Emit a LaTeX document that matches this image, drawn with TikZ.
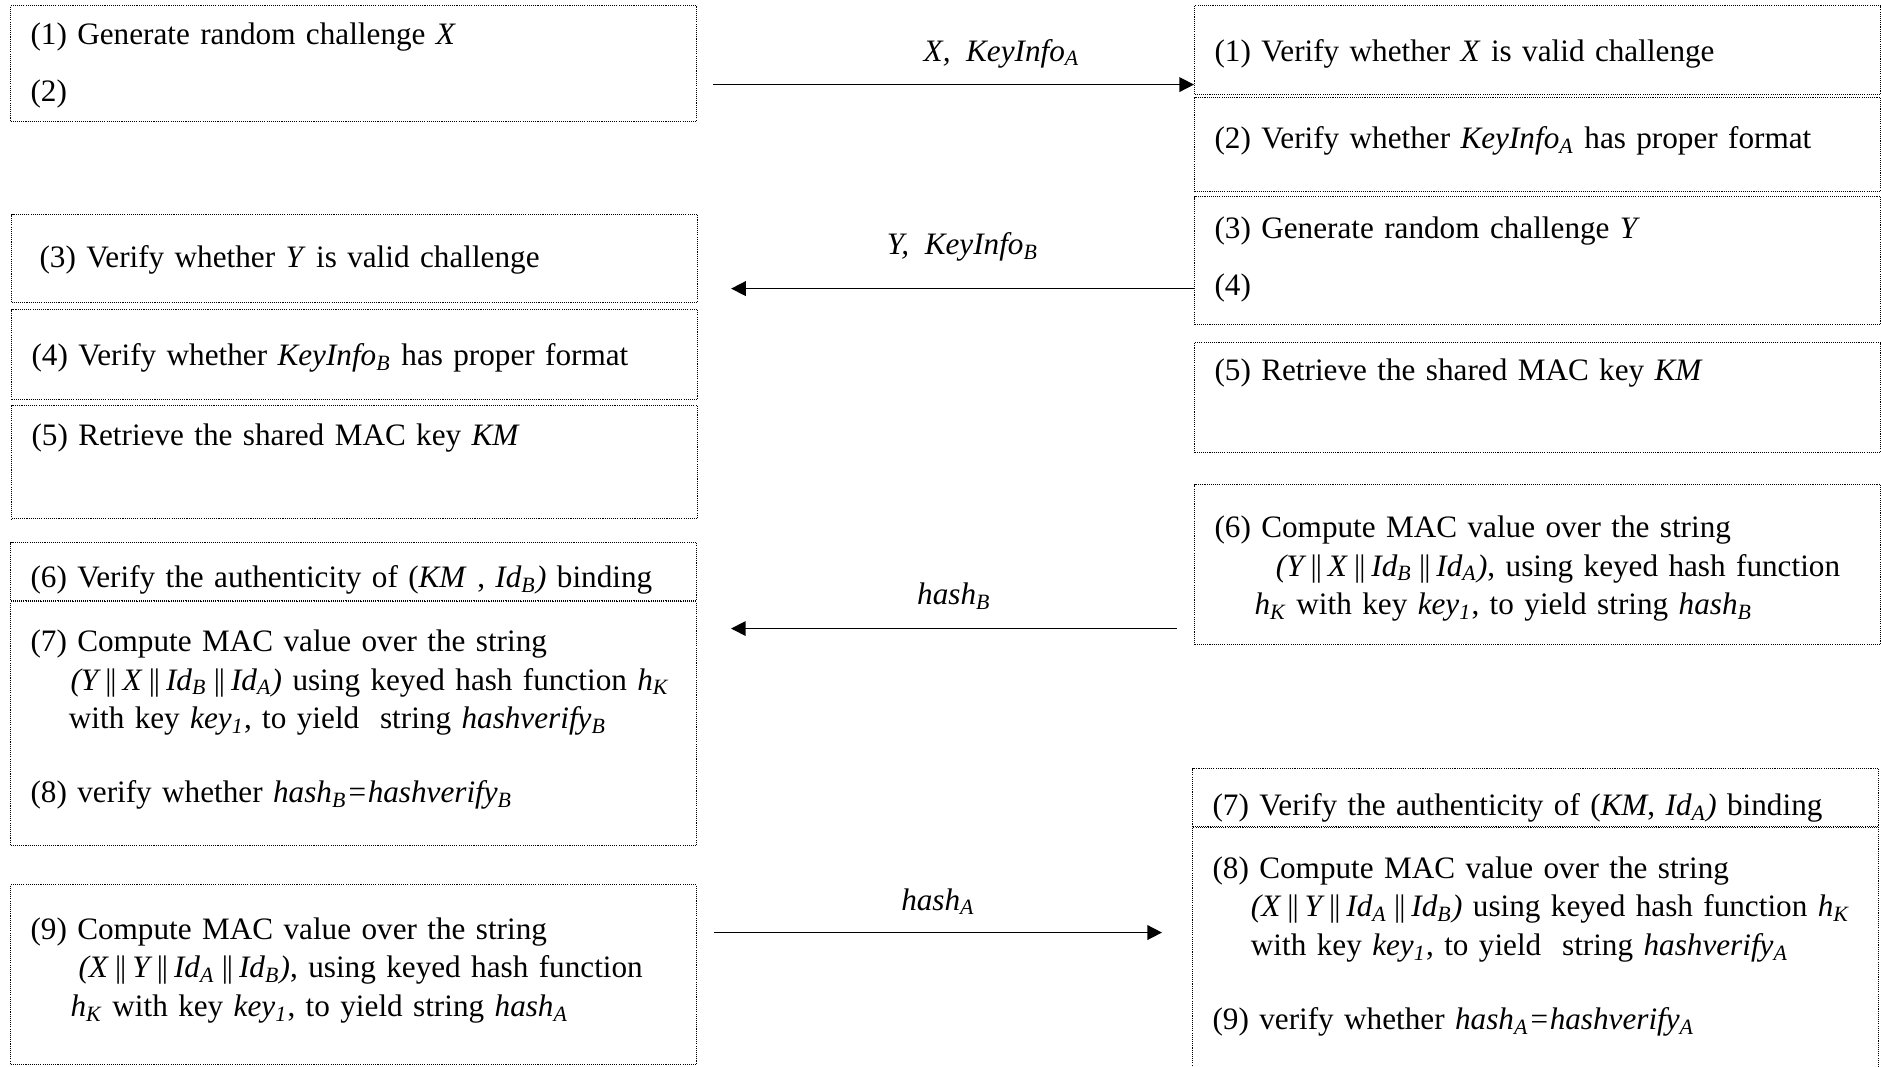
\documentclass[tikz,border=0pt]{standalone}
\usepackage{fontspec}
\setmainfont{Liberation Serif}
\usetikzlibrary{arrows.meta, positioning}

\newcommand{\cat}{\hspace{2pt}|\kern-1.3pt|\hspace{2pt}}

\begin{document}
\begin{tikzpicture}[
    x=0.375pt, y=-0.375pt,
    node distance=0pt,
    box/.style={draw, line width=0.4pt, dash pattern=on 0.4pt off 0.4pt, anchor=north west,
                align=left, text width=242.25pt, inner xsep=7.5pt, inner ysep=0pt,
                font=\fontsize{11.7}{14.4}\selectfont},
    arrow/.style={-{Triangle[length=5.5pt, width=5.5pt]}, line width=0.6pt},
    msg/.style={inner sep=0pt, font=\fontsize{11.7}{14.4}\selectfont\itshape}
]
\useasboundingbox (0,0) rectangle (1881,1066);

% Lado A
\node[box, text height=14.6pt, text depth=28.9pt] (A1) at (10,5)
    {(1) Generate random challenge \textit{X}\\[7pt](2)};
\node[box, text height=19.9pt, text depth=13.1pt] (A2) at (11,214)
    {\hspace*{3pt}(3) Verify whether \textit{Y} is valid challenge};
\node[box, text height=21pt, text depth=12.75pt, below=2.25pt of A2] (A3)
    {(4) Verify whether \textit{KeyInfo\textsubscript{B}} has proper format};
\node[box, text height=15pt, text depth=27.4pt, below=1.9pt of A3] (A4)
    {(5) Retrieve the shared MAC key \textit{KM}};
\node[box, text height=16.9pt, text depth=4.9pt] (A5) at (10,542)
    {(6) Verify the authenticity of (\textit{KM} , \textit{Id\textsubscript{B})} binding};
\node[box, text height=18.75pt, text depth=72.75pt, below=of A5] (A6)
    {(7) Compute MAC value over the string\\
     \hspace*{15pt}\mbox{\textit{(Y\cat X\cat Id\textsubscript{B}\cat Id\textsubscript{A})} using keyed hash function \textit{h\textsubscript{K}}}\\
     \hspace*{14.4pt}with key \textit{key\textsubscript{1}}, to yield~ string \textit{hashverify\textsubscript{B}}\\[13.35pt]
     (8) verify whether \textit{hash\textsubscript{B}=hashverify\textsubscript{B}}};
\node[box, text height=20.6pt, text depth=46.9pt] (A7) at (10,884)
    {(9) Compute MAC value over the string\\
     \hspace*{18pt}\mbox{\textit{(X\cat Y\cat Id\textsubscript{A}\cat Id\textsubscript{B})}, using keyed hash function}\\
     \hspace*{15pt}\textit{h\textsubscript{K}} with key \textit{key\textsubscript{1}}, to yield string \textit{hash\textsubscript{A}}};

% Lado B
\node[box, text height=21pt, text depth=12.4pt] (B1) at (1194,5)
    {(1) Verify whether \textit{X} is valid challenge};
\node[box, text height=19.1pt, text depth=16.1pt, below=0.75pt of B1] (B2)
    {(2) Verify whether \textit{KeyInfo\textsubscript{A}} has proper format};
\node[box, text height=15.75pt, text depth=32.25pt, below=1.5pt of B2] (B3)
    {(3) Generate random challenge \textit{Y}\\[7pt](4)};
\node[box, text height=14.25pt, text depth=27pt] (B4) at (1194,342)
    {(5) Retrieve the shared MAC key \textit{KM}};
\node[box, text height=19.9pt, text depth=40.1pt] (B5) at (1194,484)
    {(6) Compute MAC value over the string\\
     \hspace*{23pt}\mbox{\textit{(Y\cat X\cat Id\textsubscript{B}\cat Id\textsubscript{A})}, using keyed hash function}\\
     \hspace*{15pt}\textit{h\textsubscript{K}} with key \textit{key\textsubscript{1}}, to yield string \textit{hash\textsubscript{B}}};
\node[box, text height=17.6pt, text depth=4.1pt] (B6) at (1192,768)
    {(7) Verify the authenticity of (\textit{KM}, \textit{Id\textsubscript{A})} binding};
\node[box, text height=19.1pt, text depth=74.3pt, below=of B6] (B7)
    {(8) Compute MAC value over the string\\
     \hspace*{14.4pt}\mbox{\textit{(X\cat Y\cat Id\textsubscript{A}\cat Id\textsubscript{B})} using keyed hash function \textit{h\textsubscript{K}}}\\
     \hspace*{14.4pt}with key \textit{key\textsubscript{1}}, to yield~ string \textit{hashverify\textsubscript{A}}\\[13.35pt]
     (9) verify whether \textit{hash\textsubscript{A}=hashverify\textsubscript{A}}};

% Mensagens
\coordinate (m1) at ([yshift=-12.94pt]B1.west);
\coordinate (m2) at ([yshift=-10.5pt]B3.west);
\coordinate (m3) at ([xshift=-6.4pt, yshift=-24pt]B5.west);
\coordinate (m4) at ([xshift=6.4pt, yshift=15.75pt]A7.east);

\draw[arrow] ([xshift=6pt]A1.east |- m1) -- (m1)
    node[msg, pos=0.6, above=6pt] {X,~ KeyInfo\textsubscript{A}};
\draw[arrow] (m2) -- ([xshift=12.4pt]A2.east |- m2)
    node[msg, midway, above=10pt] {Y,~ KeyInfo\textsubscript{B}};
\draw[arrow] (m3) -- ([xshift=12.75pt]A6.east |- m3)
    node[msg, midway, above=7pt] {hash\textsubscript{B}};
\draw[arrow] (m4) -- ([xshift=-11.25pt]B7.west |- m4)
    node[msg, midway, above=6.3pt] {hash\textsubscript{A}};

\end{tikzpicture}
\end{document}
